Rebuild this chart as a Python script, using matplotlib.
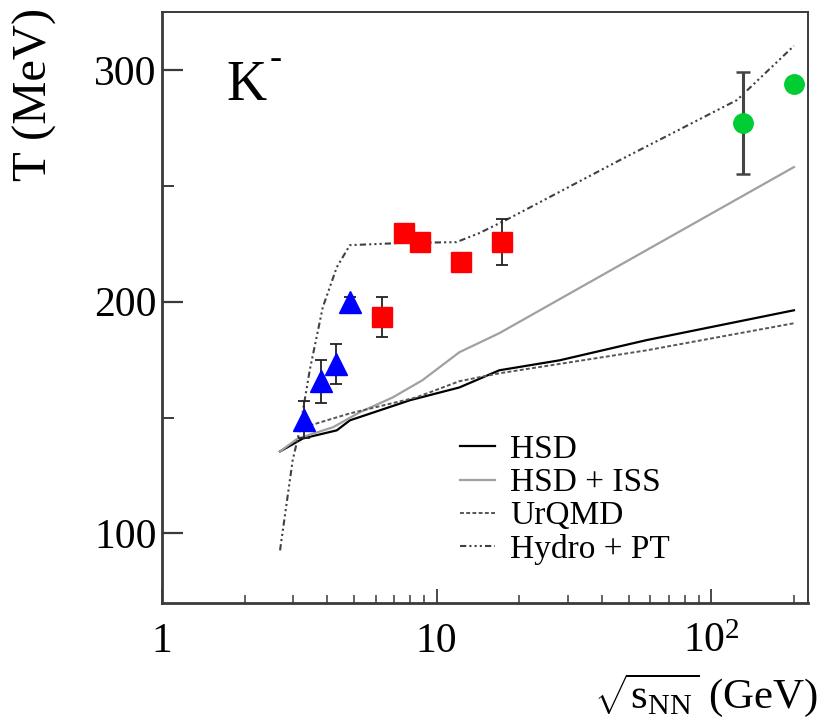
import numpy as np
import matplotlib
matplotlib.use('Agg')
import matplotlib.pyplot as plt

plt.rcParams['font.family'] = ['Liberation Serif', 'DejaVu Serif']
plt.rcParams['mathtext.fontset'] = 'custom'
plt.rcParams['mathtext.rm'] = 'Liberation Serif'
plt.rcParams['mathtext.it'] = 'Liberation Serif'
plt.rcParams['mathtext.default'] = 'regular'

# data points
ags_x = [3.3, 3.8, 4.3, 4.85]
ags_y = [149, 165.7, 173, 200]
ags_err = [8, 9.3, 8.6, 2]

sps_x = [6.3, 7.6, 8.7, 12.3, 17.3]
sps_y = [193.3, 229.6, 225.7, 217, 225.7]
sps_err = [8.6, 2, 2, 2, 10]

rhic_x = [130, 200]
rhic_y = [277, 294]
rhic_err = [22, 0]

# model curves
hsd_x = [2.69, 3.26, 4.33, 4.83, 8.0, 12.1, 16.9, 28, 58, 200]
hsd_y = [135.4, 141, 144.5, 148.8, 157.5, 163, 170.4, 174.7, 183.4, 196.3]

iss_x = [2.69, 3.12, 4.19, 5.25, 6.92, 8.87, 12.1, 16.9, 58, 200]
iss_y = [135.4, 141, 145.8, 152.3, 158.7, 166.1, 178.2, 186.4, 222.2, 258.1]

urqmd_x = [3.28, 4.83, 8.43, 12.1, 16.9, 58, 200]
urqmd_y = [145.8, 151.8, 158.7, 165.7, 169.1, 179, 190.7]

hydro_x = [2.69, 2.99, 3.17, 3.45, 3.85, 4.33, 4.83, 7.33, 11.8, 14.3, 18.4, 46.3, 124, 200]
hydro_y = [92.7, 131.5, 144.5, 170.4, 197.6, 214.9, 224.4, 225.3, 225.7, 229.6, 236, 261, 287, 310.4]

frame = '#3a3a3a'

fig = plt.figure(figsize=(8.32, 7.21), dpi=100)
ax = fig.add_axes([162 / 832, 118 / 721, 646 / 832, 591 / 721])

ax.plot(hsd_x, hsd_y, color='black', lw=1.6, label='HSD')
ax.plot(iss_x, iss_y, color='#a0a0a0', lw=1.6, label='HSD + ISS')
ax.plot(urqmd_x, urqmd_y, color='#555555', lw=1.4, ls=(0, (2, 1.2)), label='UrQMD')
ax.plot(hydro_x, hydro_y, color='#404040', lw=1.5, ls=(0, (3, 1.5, 1, 1.5, 1, 1.5, 1, 1.5)),
        label='Hydro + PT')

ax.errorbar(ags_x, ags_y, yerr=ags_err, fmt='^', color='#0000ff', ms=16, mec='#0000ff',
            ecolor='#222222', elinewidth=1.3, capsize=4, capthick=1.3, zorder=5)
ax.errorbar(sps_x, sps_y, yerr=sps_err, fmt='s', color='#ff0000', ms=14, mec='#ff0000',
            ecolor='#222222', elinewidth=1.3, capsize=4, capthick=1.3, zorder=5)
ax.errorbar(rhic_x, rhic_y, yerr=rhic_err, fmt='o', color='#00cc33', ms=14, mec='#00cc33',
            ecolor='#444444', elinewidth=2.2, capsize=5, capthick=1.8, zorder=5)

ax.set_xscale('log')
ax.set_xlim(1, 225)
ax.set_ylim(70, 325)

ax.set_xticks([1, 10, 100])
ax.set_xticklabels(['1', '10', '$10^{2}$'])
minor_x = [2, 3, 4, 5, 6, 7, 8, 9, 20, 30, 40, 50, 60, 70, 80, 90, 200]
ax.set_xticks(minor_x, minor=True)
ax.xaxis.set_minor_formatter(matplotlib.ticker.NullFormatter())
ax.set_yticks([100, 200, 300])
ax.set_yticks([150, 250], minor=True)

ax.tick_params(axis='both', which='both', direction='in', colors=frame, labelcolor='black')
ax.tick_params(axis='x', which='major', length=10, width=1.3, labelsize=30, pad=14)
ax.tick_params(axis='x', which='minor', length=6, width=1.1)
ax.tick_params(axis='y', which='major', length=15, width=1.6, labelsize=30, pad=4)
ax.tick_params(axis='y', which='minor', length=8.5, width=1.4)

for side in ['left', 'bottom', 'top', 'right']:
    ax.spines[side].set_color(frame)
ax.spines['left'].set_linewidth(2)
ax.spines['bottom'].set_linewidth(2)
ax.spines['top'].set_linewidth(1.4)
ax.spines['right'].set_linewidth(1.4)

ax.text(0.1, 0.851, 'K', transform=ax.transAxes, fontsize=40, ha='left', va='baseline')
ax.text(0.166, 0.905, '-', transform=ax.transAxes, fontsize=26, ha='left', va='baseline')

fig.text(818 / 832, 1 - 695 / 721, r'$\sqrt{s_{NN}}$ (GeV)', fontsize=31, ha='right', va='center')
fig.text(35 / 832, 1 - 8 / 721, 'T (MeV)', fontsize=35, rotation=90, ha='center', va='top')

ax.legend(loc='upper left', bbox_to_anchor=(0.462, 0.285), frameon=False, fontsize=24,
          handlelength=1.05, handletextpad=0.45, labelspacing=0.08, borderpad=0, borderaxespad=0)

fig.savefig('out.png', dpi=100)
